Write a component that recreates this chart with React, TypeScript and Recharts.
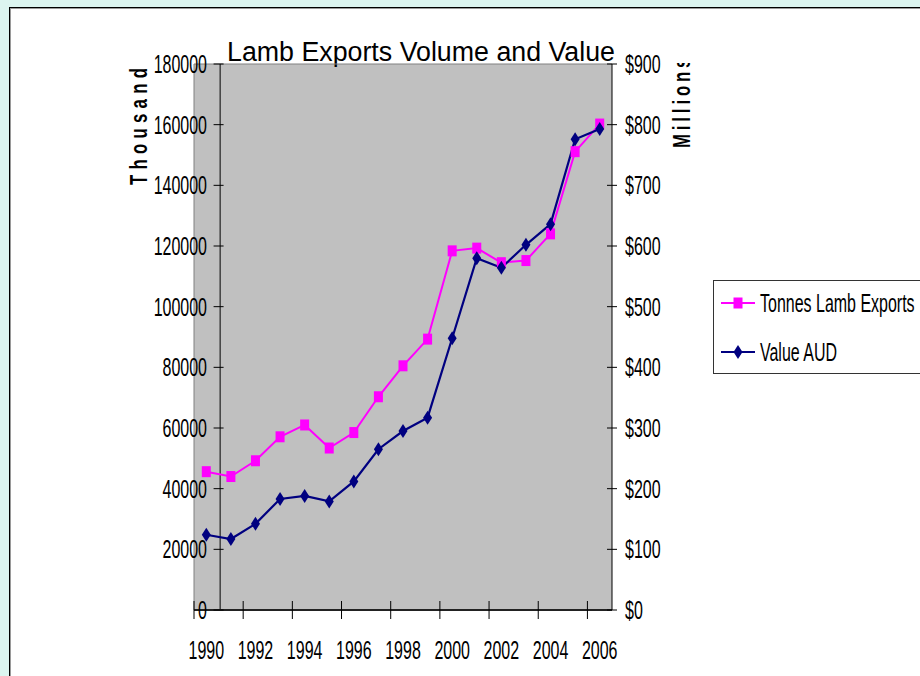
import React from 'react';
import { LineChart, Line, XAxis, YAxis, CartesianGrid, ReferenceLine, Legend } from 'recharts';

const years = ['1990', '1991', '1992', '1993', '1994', '1995', '1996', '1997', '1998', '1999', '2000', '2001', '2002', '2003', '2004', '2005', '2006'];
const tonnesLambExports = [45600, 44000, 49200, 57100, 61000, 53400, 58500, 70300, 80500, 89300, 118400, 119300, 114500, 115200, 124000, 151100, 160200];
const valueAUD = [124, 117, 142, 183, 188, 179, 212, 265, 295, 317, 448, 580, 564, 602, 636, 776, 793];
const leftTicks = [0, 20000, 40000, 60000, 80000, 100000, 120000, 140000, 160000, 180000];
const rightTicks = [0, 100, 200, 300, 400, 500, 600, 700, 800, 900];

const data = years.map((year, i) => ({ year, tonnes: tonnesLambExports[i], value: valueAUD[i] }));

const CHART_W = 920;
const CHART_H = 676;
const LEFT_W = 194;
const RIGHT_W = 308;
const TOP = 64;
const X_H = 66;
const PLOT_W = CHART_W - LEFT_W - RIGHT_W;
const BAND = PLOT_W / years.length;

const FONT = '"Liberation Sans", Arial, sans-serif';
const SQUEEZE = 0.64;
const PINK = '#ff00ff';
const NAVY = '#000080';

function NarrowText({ x, y, anchor, children }: any) {
  return (
    <text
      transform={`translate(${x},${y}) scale(${SQUEEZE},1)`}
      textAnchor={anchor}
      fontFamily={FONT}
      fontSize={25}
      fill="#000"
      dy="0.36em"
    >
      {children}
    </text>
  );
}

const LeftTick = (props: any) => {
  const { x, y, payload } = props;
  return (
    <g>
      <NarrowText x={x + 13} y={y} anchor="end">{payload.value}</NarrowText>
      <line x1={x + BAND - 5} x2={x + BAND + 5} y1={y} y2={y} stroke="#000" strokeWidth={1} />
    </g>
  );
};

const RightTick = (props: any) => {
  const { x, y, payload } = props;
  return (
    <g>
      <line x1={x - 5} x2={x + 5} y1={y} y2={y} stroke="#000" strokeWidth={1} />
      <NarrowText x={x + 13} y={y} anchor="start">{'$' + payload.value}</NarrowText>
    </g>
  );
};

const BottomTick = (props: any) => {
  const { x, y, payload, index } = props;
  if (index % 2 !== 0) return <g />;
  const bx = x - BAND / 2;
  return (
    <g>
      <line x1={bx} x2={bx} y1={y - 9} y2={y + 9} stroke="#000" strokeWidth={1} />
      <NarrowText x={x} y={y + 40} anchor="middle">{payload.value}</NarrowText>
    </g>
  );
};

const SquareDot = (props: any) => {
  const { cx, cy, index } = props;
  if (cx == null || cy == null) return <g key={index} />;
  return <rect key={index} x={cx - 4.5} y={cy - 5.5} width={9} height={11} fill={PINK} />;
};

const DiamondDot = (props: any) => {
  const { cx, cy, index } = props;
  if (cx == null || cy == null) return <g key={index} />;
  return (
    <polygon
      key={index}
      points={`${cx},${cy - 7} ${cx + 4.5},${cy} ${cx},${cy + 7} ${cx - 4.5},${cy}`}
      fill={NAVY}
    />
  );
};

const LegendBox = () => (
  <svg width={240} height={96} style={{ display: 'block', overflow: 'visible' }}>
    <rect x={0.5} y={0.5} width={260} height={93} fill="#fff" stroke="#333" strokeWidth={1} />
    <line x1={8} x2={42} y1={23} y2={23} stroke={PINK} strokeWidth={2} />
    <rect x={25 - 4.5} y={23 - 5.5} width={9} height={11} fill={PINK} />
    <NarrowText x={47} y={23} anchor="start">Tonnes Lamb Exports</NarrowText>
    <line x1={8} x2={42} y1={72} y2={72} stroke={NAVY} strokeWidth={2} />
    <polygon points={`25,65 29.5,72 25,79 20.5,72`} fill={NAVY} />
    <NarrowText x={47} y={72} anchor="start">Value AUD</NarrowText>
  </svg>
);

export default function App() {
  return (
    <div
      style={{
        position: 'fixed',
        left: 0,
        top: 0,
        width: CHART_W,
        height: CHART_H,
        overflow: 'hidden',
        background: '#dcf5f0',
      }}
    >
      <div
        style={{
          position: 'absolute',
          left: 9,
          top: 7,
          width: 1000,
          height: 1000,
          background: '#fff',
          border: '1px solid #000',
          boxShadow: 'inset 1px 1px 0 #9a9a9a',
        }}
      />
      <div style={{ position: 'absolute', left: 0, top: 0 }}>
        <LineChart width={CHART_W} height={CHART_H} data={data} margin={{ top: TOP, right: 0, bottom: 0, left: 0 }}>
          <defs>
            <clipPath id="millionsClip">
              <rect x={600} y={63} width={200} height={200} />
            </clipPath>
          </defs>
          <CartesianGrid xAxisId="cat" yAxisId="left" fill="#c0c0c0" fillOpacity={1} horizontal={false} vertical={false} />
          <XAxis
            xAxisId="cat"
            dataKey="year"
            type="category"
            height={X_H}
            interval={0}
            padding={{ left: BAND / 2, right: BAND / 2 }}
            tickSize={0}
            tickMargin={0}
            tickLine={false}
            axisLine={{ stroke: '#222', strokeWidth: 2 }}
            tick={<BottomTick />}
          />
          <XAxis xAxisId="num" type="number" domain={[0, years.length]} allowDataOverflow hide />
          <YAxis
            yAxisId="left"
            orientation="left"
            width={LEFT_W}
            domain={[0, 180000]}
            ticks={leftTicks}
            interval={0}
            tickSize={0}
            tickMargin={0}
            tickLine={false}
            axisLine={false}
            tick={<LeftTick />}
          />
          <YAxis
            yAxisId="right"
            orientation="right"
            width={RIGHT_W}
            domain={[0, 900]}
            ticks={rightTicks}
            interval={0}
            tickSize={0}
            tickMargin={0}
            tickLine={false}
            axisLine={{ stroke: '#000', strokeWidth: 1 }}
            tick={<RightTick />}
          />
          <ReferenceLine xAxisId="num" yAxisId="left" x={0} stroke="#808080" strokeWidth={1} />
          <ReferenceLine xAxisId="num" yAxisId="left" y={180000} stroke="#808080" strokeWidth={1} />
          <ReferenceLine xAxisId="num" yAxisId="left" x={1} stroke="#000" strokeWidth={1} />
          <Line
            xAxisId="cat"
            yAxisId="left"
            dataKey="tonnes"
            name="Tonnes Lamb Exports"
            stroke={PINK}
            strokeWidth={2}
            dot={SquareDot}
            activeDot={false}
            isAnimationActive={false}
          />
          <Line
            xAxisId="cat"
            yAxisId="right"
            dataKey="value"
            name="Value AUD"
            stroke={NAVY}
            strokeWidth={2.2}
            dot={DiamondDot}
            activeDot={false}
            isAnimationActive={false}
          />
          <Legend
            layout="vertical"
            align="center"
            verticalAlign="middle"
            content={<LegendBox />}
            wrapperStyle={{ left: 713, top: 280, width: 240, height: 96 }}
          />
          <text x={227} y={61} fontFamily={FONT} fontSize={27} textLength={388} lengthAdjust="spacingAndGlyphs" fill="#000">
            Lamb Exports Volume and Value
          </text>
          <text
            transform="translate(147,185) rotate(-90) scale(0.7,1)"
            fontFamily={FONT}
            fontWeight="bold"
            fontSize={24}
            letterSpacing={7.5}
            fill="#000"
          >
            Thousand
          </text>
          <g clipPath="url(#millionsClip)">
            <text
              transform="translate(690,148) rotate(-90) scale(0.7,1)"
              fontFamily={FONT}
              fontWeight="bold"
              fontSize={24}
              letterSpacing={5.5}
              fill="#000"
            >
              Millions
            </text>
          </g>
        </LineChart>
      </div>
    </div>
  );
}
